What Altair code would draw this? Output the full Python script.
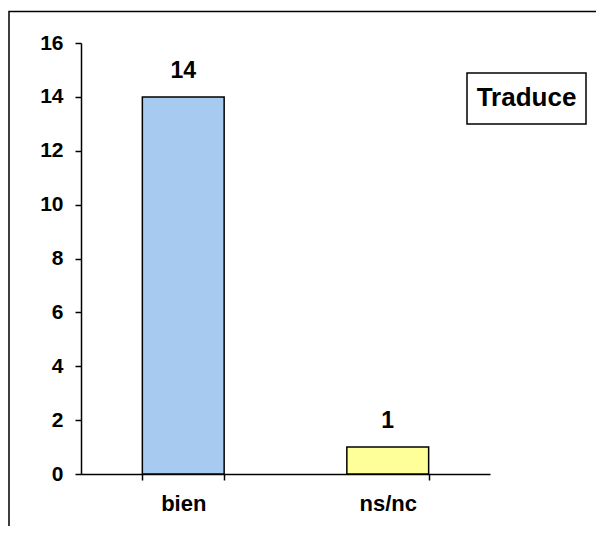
import altair as alt
import pandas as pd

categories = ["bien", "ns/nc"]
values = [14, 1]
bar_colors = ["#A6CAF0", "#FFFF99"]
series_name = "Traduce"
y_ticks = [0, 2, 4, 6, 8, 10, 12, 14, 16]

df = pd.DataFrame({"cat": categories, "val": values})

W, H = 409, 431
FONT = "Arial, Liberation Sans, sans-serif"

x_enc = alt.X("cat:N", sort=categories,
              scale=alt.Scale(paddingInner=0.6, paddingOuter=0.3),
              axis=alt.Axis(title=None, labelAngle=0, labelFont=FONT, labelFontSize=22,
                            labelFontWeight="bold", labelColor="black", labelPadding=13,
                            domainColor="black", domainWidth=1.5, tickColor="black",
                            tickWidth=1.5, tickSize=6, tickBand="extent", grid=False))
y_enc = alt.Y("val:Q", scale=alt.Scale(domain=[0, 16], nice=False),
              axis=alt.Axis(title=None, values=y_ticks, labelFont=FONT, labelFontSize=21,
                            labelFontWeight="bold", labelColor="black", labelPadding=12,
                            domainColor="black", domainWidth=1.5, tickColor="black",
                            tickWidth=1.5, tickSize=6, grid=False))

bars = alt.Chart(df).mark_bar(stroke="black", strokeWidth=1.5).encode(
    x=x_enc, y=y_enc,
    color=alt.Color("cat:N", scale=alt.Scale(domain=categories, range=bar_colors), legend=None),
)
labels = alt.Chart(df).mark_text(font=FONT, fontSize=23, fontWeight="bold", color="black",
                                 baseline="alphabetic", dy=-19).encode(
    x=alt.X("cat:N", sort=categories), y="val:Q", text="val:Q")

legend_df = pd.DataFrame({"name": [series_name]})
legend_box = alt.Chart(legend_df).mark_rect(fill="white", stroke="black", strokeWidth=1.5).encode(
    x=alt.value(386), x2=alt.value(505), y=alt.value(30), y2=alt.value(81))
legend_text = alt.Chart(legend_df).mark_text(font=FONT, fontSize=26, fontWeight="bold",
                                             color="black", baseline="alphabetic", align="center").encode(
    x=alt.value(445.5), y=alt.value(62.5), text="name:N")

frame = alt.Chart(legend_df).mark_rect(fill=None, stroke="black", strokeWidth=1.5).encode(
    x=alt.value(-72), x2=alt.value(W + 200), y=alt.value(-31.5), y2=alt.value(H + 200))

chart = alt.layer(frame, bars, labels, legend_box, legend_text).properties(
    width=W, height=H,
    autosize=alt.AutoSizeParams(type="none"),
    padding={"left": 73, "top": 35, "right": 106, "bottom": 52},
    background="white",
).configure_view(stroke=None)

chart.save("out.html", embed_options={"renderer": "svg", "actions": False})
